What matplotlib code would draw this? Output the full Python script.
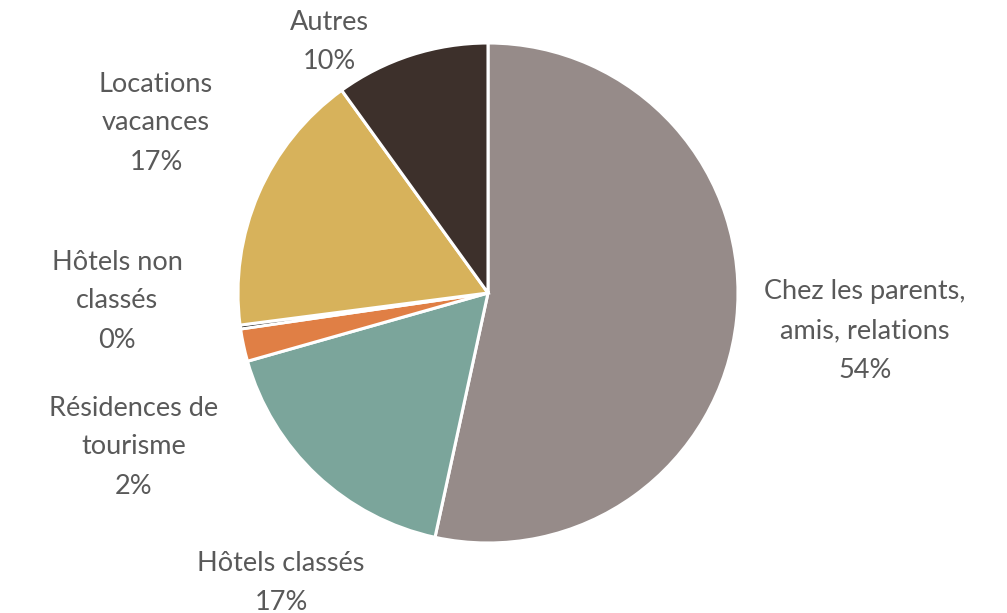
import matplotlib
matplotlib.use('Agg')
import matplotlib.pyplot as plt

categories = ['Chez les parents,\namis, relations', 'Hôtels classés',
              'Résidences de\ntourisme', 'Hôtels non\nclassés',
              'Locations\nvacances', 'Autres']
shares = [53.4, 17.2, 2.1, 0.25, 17.1, 9.95]
pct_labels = ['54%', '17%', '2%', '0%', '17%', '10%']
colors = ['#968B89', '#7BA59B', '#E07F45', '#111111', '#D7B25B', '#3D302B']

# label centres in pixels (x, y from top) -> converted to pie units below
label_px = [(865, 331), (281, 583), (134, 447), (117, 301), (156, 123), (329, 42)]

plt.rcParams['font.family'] = ['Lato', 'DejaVu Sans']

W, H, DPI = 1007, 613, 100
cx, cy, r = 488, 293, 250
fig = plt.figure(figsize=(W / DPI, H / DPI), dpi=DPI)
ax = fig.add_axes([(cx - r) / W, (H - cy - r) / H, 2 * r / W, 2 * r / H])

wedges, _ = ax.pie(shares, colors=colors, startangle=90, counterclock=False,
                   wedgeprops=dict(edgecolor='white', linewidth=2.2))
ax.set_xlim(-1, 1)
ax.set_ylim(-1, 1)
ax.set_aspect('equal')

for name, pct, (px, py) in zip(categories, pct_labels, label_px):
    ax.text((px - cx) / r, (cy - py) / r, name + '\n' + pct,
            ha='center', va='center', fontsize=19.5, color='#595959',
            linespacing=1.7, clip_on=False)

fig.savefig('out.png', dpi=DPI)
